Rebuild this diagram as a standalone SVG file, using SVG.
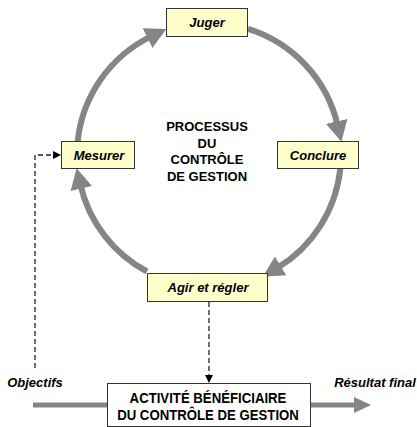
<svg xmlns="http://www.w3.org/2000/svg" width="417" height="427" viewBox="0 0 417 427">
  <defs>
    <style>
      .step { fill: #FFFFCC; stroke: #333333; stroke-width: 1; }
      .step-label { font-family: "Liberation Sans", Arial, sans-serif; font-size: 13px; font-weight: bold; font-style: italic; fill: #000; text-anchor: middle; }
      .title { font-family: "Liberation Sans", Arial, sans-serif; font-size: 13px; font-weight: bold; fill: #000; text-anchor: middle; }
      .cycle { fill: none; stroke: #858585; stroke-width: 6; }
      .flow { fill: none; stroke: #858585; stroke-width: 5; }
      .dash { fill: none; stroke: #222; stroke-width: 1.3; stroke-dasharray: 5 3; }
      .box { fill: #FFFFFF; stroke: #333333; stroke-width: 1; }
    </style>
    <marker id="bigHead" markerUnits="userSpaceOnUse" markerWidth="22" markerHeight="22" refX="4" refY="11" orient="auto">
      <path d="M0,0 L21,11 L0,22 z" fill="#858585"/>
    </marker>
    <marker id="flowHead" markerUnits="userSpaceOnUse" markerWidth="18" markerHeight="16" refX="2" refY="8" orient="auto">
      <path d="M0,0 L17,8 L0,16 z" fill="#858585"/>
    </marker>
    <marker id="smallHead" markerUnits="userSpaceOnUse" markerWidth="8" markerHeight="8" refX="7" refY="4" orient="auto">
      <path d="M0,0 L8,4 L0,8 z" fill="#000"/>
    </marker>
  </defs>

  <!-- connectors -->
  <g id="connectors">
    <!-- control cycle, clockwise -->
    <path class="cycle" d="M77.7,141.2 A132,132 0 0 1 151.1,36.4" marker-end="url(#bigHead)"/>
    <path class="cycle" d="M248,28.9 A132,132 0 0 1 337.6,125.3" marker-end="url(#bigHead)"/>
    <path class="cycle" d="M340.3,168.8 A132,132 0 0 1 277.2,268" marker-end="url(#bigHead)"/>
    <path class="cycle" d="M147,271.5 A132,132 0 0 1 80.4,184.7" marker-end="url(#bigHead)"/>
    <!-- objectives feed -->
    <path class="dash" d="M35,368 L35,155 L60,155" marker-end="url(#smallHead)"/>
    <!-- regulation feed -->
    <path class="dash" d="M209,302 L209,382" marker-end="url(#smallHead)"/>
    <!-- main flow -->
    <path class="flow" d="M33,405 L107,405"/>
    <path class="flow" d="M311,405 L356,405" marker-end="url(#flowHead)"/>
  </g>

  <g id="juger">
    <rect class="step" x="166.5" y="8.5" width="81" height="28"/>
    <text class="step-label" x="207" y="27">Juger</text>
  </g>
  <g id="conclure">
    <rect class="step" x="277.5" y="141.5" width="81" height="27"/>
    <text class="step-label" x="318" y="159.5">Conclure</text>
  </g>
  <g id="agir">
    <rect class="step" x="147.5" y="273.5" width="120" height="28"/>
    <text class="step-label" x="208" y="292">Agir et régler</text>
  </g>
  <g id="mesurer">
    <rect class="step" x="61.5" y="141.5" width="73" height="27"/>
    <text class="step-label" x="99" y="159.5">Mesurer</text>
  </g>

  <g id="processus">
    <text class="title" x="207" y="131">PROCESSUS</text>
    <text class="title" x="207" y="147.5">DU</text>
    <text class="title" x="207" y="164">CONTRÔLE</text>
    <text class="title" x="207" y="181">DE GESTION</text>
  </g>

  <g id="activite">
    <rect class="box" x="107.5" y="383.5" width="203" height="43"/>
    <g transform="translate(208,0) scale(1,1.12)">
      <text class="title" x="0" y="359.8" style="font-size:13.2px">ACTIVITÉ BÉNÉFICIAIRE</text>
      <text class="title" x="0" y="375" style="font-size:13.2px">DU CONTRÔLE DE GESTION</text>
    </g>
  </g>

  <g id="objectifs">
    <text class="step-label" x="35" y="387">Objectifs</text>
  </g>
  <g id="resultat">
    <text class="step-label" x="375" y="387">Résultat final</text>
  </g>
</svg>
